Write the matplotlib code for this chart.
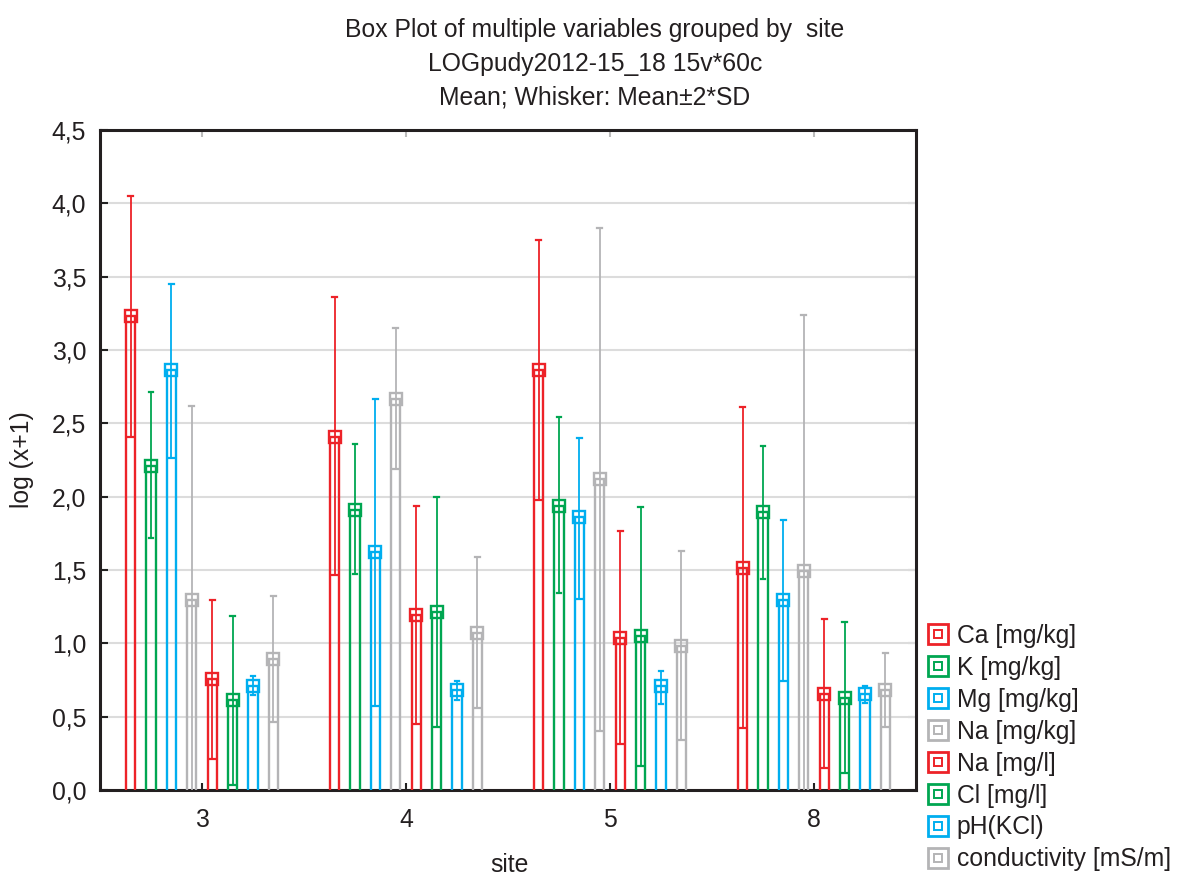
import matplotlib
matplotlib.use("Agg")
import matplotlib.pyplot as plt
from matplotlib.lines import Line2D
import numpy as np

plt.rcParams['font.family'] = ['Liberation Sans', 'DejaVu Sans']
plt.rcParams['text.color'] = '#231F20'
plt.rcParams['xtick.labelcolor'] = '#231F20'
plt.rcParams['ytick.labelcolor'] = '#231F20'

sites = ['3', '4', '5', '8']
variables = ['Ca [mg/kg]', 'K [mg/kg]', 'Mg [mg/kg]', 'Na [mg/kg]',
             'Na [mg/l]', 'Cl [mg/l]', 'pH(KCl)', 'conductivity [mS/m]']

# means per variable for each site
mean_Ca_kg = [3.23, 2.41, 2.865, 1.517]
mean_K_kg = [2.21, 1.912, 1.936, 1.896]
mean_Mg_kg = [2.865, 1.624, 1.861, 1.295]
mean_Na_kg = [1.297, 2.668, 2.122, 1.492]
mean_Na_l = [0.758, 1.19, 1.034, 0.652]
mean_Cl_l = [0.612, 1.215, 1.049, 0.627]
mean_pH = [0.706, 0.679, 0.707, 0.654]
mean_cond = [0.89, 1.072, 0.981, 0.682]

# whisker upper (Mean+2SD)
up_Ca_kg = [4.05, 3.363, 3.747, 2.609]
up_K_kg = [2.712, 2.357, 2.544, 2.344]
up_Mg_kg = [3.453, 2.668, 2.403, 1.844]
up_Na_kg = [2.617, 3.148, 3.83, 3.241]
up_Na_l = [1.294, 1.933, 1.764, 1.168]
up_Cl_l = [1.189, 1.996, 1.929, 1.147]
up_pH = [0.776, 0.741, 0.812, 0.707]
up_cond = [1.324, 1.588, 1.631, 0.936]

# whisker lower (Mean-2SD)
lo_Ca_kg = [2.405, 1.465, 1.978, 0.425]
lo_K_kg = [1.717, 1.472, 1.342, 1.442]
lo_Mg_kg = [2.267, 0.573, 1.305, 0.743]
lo_Na_kg = [-0.02, 2.189, 0.405, -0.26]
lo_Na_l = [0.213, 0.452, 0.316, 0.150]
lo_Cl_l = [0.033, 0.430, 0.162, 0.114]
lo_pH = [0.645, 0.614, 0.587, 0.595]
lo_cond = [0.461, 0.559, 0.340, 0.430]

means = [mean_Ca_kg, mean_K_kg, mean_Mg_kg, mean_Na_kg, mean_Na_l, mean_Cl_l, mean_pH, mean_cond]
uppers = [up_Ca_kg, up_K_kg, up_Mg_kg, up_Na_kg, up_Na_l, up_Cl_l, up_pH, up_cond]
lowers = [lo_Ca_kg, lo_K_kg, lo_Mg_kg, lo_Na_kg, lo_Na_l, lo_Cl_l, lo_pH, lo_cond]

RED = '#ED2228'
GREEN = '#00A651'
BLUE = '#00AEEF'
GRAY = '#B4B4B6'
colors = [RED, GREEN, BLUE, GRAY, RED, GREEN, BLUE, GRAY]

FS = 17.8

fig = plt.figure(figsize=(11.78, 8.77), dpi=100)
ax = fig.add_axes([100/1178, 1-790/877, 816/1178, 660/877])

ax.set_xlim(-0.5, 3.5)
ax.set_ylim(0, 4.5)
yt = np.arange(0, 4.51, 0.5)
ax.set_yticks(yt)
ax.set_yticklabels([f"{v:.1f}".replace('.', ',') for v in yt], fontsize=FS)
ax.yaxis.grid(True, color='#DCDCDC', linewidth=1.5)
ax.set_axisbelow(True)

ax.set_xticks(range(len(sites)))
ax.set_xticklabels(sites, fontsize=FS)
ax.tick_params(axis='x', direction='in', length=5, width=1.5, color='#222222', pad=13)
ax.tick_params(axis='y', direction='in', length=6, width=1.5, color='#222222', pad=10)
for sp in ax.spines.values():
    sp.set_linewidth(2.2)
    sp.set_color('#231F20')

secx = ax.secondary_xaxis('top')
secx.set_xticks(range(len(sites)))
secx.set_xticklabels([])
secx.tick_params(direction='in', length=5, width=1.5, color='#BBBBBB')
secx.spines['top'].set_visible(False)

secy = ax.secondary_yaxis('right')
secy.set_yticks(yt)
secy.set_yticklabels([])
secy.tick_params(direction='in', length=6, width=1.5, color='#AAAAAA')
secy.spines['right'].set_visible(False)

boxw = 0.046
capw = 0.012
nvar = len(variables)
for i in range(nvar):
    c = colors[i]
    for j in range(len(sites)):
        x = j + (i - 3.5) * 0.1
        m = means[i][j]
        ax.plot([x - boxw/2, x - boxw/2, x + boxw/2, x + boxw/2],
                [0, m, m, 0], color=c, lw=1.7, solid_joinstyle='miter', zorder=3)
        ax.plot([x, x], [lowers[i][j], uppers[i][j]], color=c, lw=1.3, zorder=3)
        ax.plot([x - capw, x + capw], [uppers[i][j]] * 2, color=c, lw=1.6, zorder=3)
        if lowers[i][j] > 0:
            ax.plot([x - capw, x + capw], [lowers[i][j]] * 2, color=c, lw=1.6, zorder=3)
        ax.plot([x], [m], marker='s', markersize=9.3, markerfacecolor='none',
                markeredgecolor=c, markeredgewidth=1.7, zorder=4)

fig.text(509/1178, 1-865/877, 'site', ha='center', va='center', fontsize=FS)
fig.text(22/1178, 1-460/877, 'log (x+1)', ha='center', va='center', rotation=90, fontsize=FS)

fig.text(595/1178, 1-30/877, 'Box Plot of multiple variables grouped by  site', ha='center', va='center', fontsize=FS)
fig.text(595/1178, 1-64/877, 'LOGpudy2012-15_18 15v*60c', ha='center', va='center', fontsize=FS)
fig.text(595/1178, 1-97/877, 'Mean; Whisker: Mean±2*SD', ha='center', va='center', fontsize=FS)

handles = []
for i in range(nvar):
    outer = Line2D([], [], linestyle='none', marker='s', markersize=15, markerfacecolor='white',
                   markeredgecolor=colors[i], markeredgewidth=2.0)
    inner = Line2D([], [], linestyle='none', marker='s', markersize=5.5, markerfacecolor='none',
                   markeredgecolor=colors[i], markeredgewidth=1.4)
    handles.append((outer, inner))
fig.legend(handles, variables, loc='upper left', bbox_to_anchor=(926/1178, 1-624/877),
           frameon=False, fontsize=FS, borderpad=0, borderaxespad=0, handlelength=0.95,
           handletextpad=0.3, labelspacing=0.32)

fig.savefig('out.png', dpi=100)
